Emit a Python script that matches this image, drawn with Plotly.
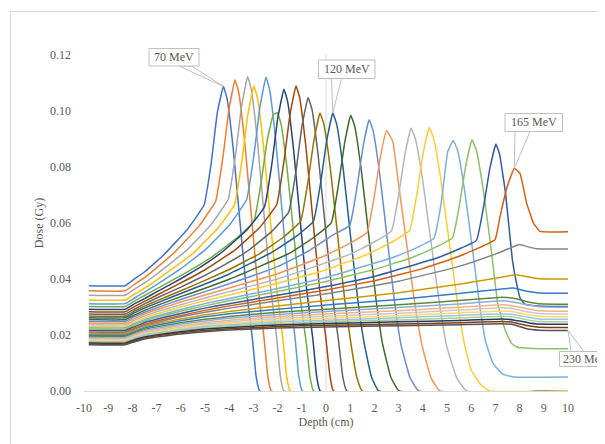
import plotly.graph_objects as go

# ---------------- data ----------------
energies = [70, 75, 80, 85, 90, 95, 100, 105, 110, 115, 120, 125, 130, 135, 140, 145, 150, 155,
            160, 165, 170, 175, 180, 185, 190, 195, 200, 205, 210, 215, 220, 225, 230]

colors = ["#4472C4", "#ED7D31", "#A5A5A5", "#FFC000", "#5B9BD5", "#70AD47",
          "#264478", "#9E480E", "#636363", "#997300", "#255E91", "#43682B",
          "#698ED0", "#F1975A", "#B7B7B7", "#FFCD33", "#7CAFDD", "#8CC168",
          "#335AA1", "#D26012", "#848484", "#CC9A00", "#327DC2", "#5A8A39",
          "#8FAADC", "#F4B183", "#C9C9C9", "#FFD966", "#9DC3E6", "#A9D18E",
          "#203864", "#843C0C", "#525252"]

x_tick_values = [-10, -9, -8, -7, -6, -5, -4, -3, -2, -1, 0, 1, 2, 3, 4, 5, 6, 7, 8, 9, 10]
x_tick_labels = ["-10", "-9", "-8", "-7", "-6", "-5", "-4", "-3", "-2", "-1", "0",
                 "1", "2", "3", "4", "5", "6", "7", "8", "9", "10"]
y_tick_values = [0.00, 0.02, 0.04, 0.06, 0.08, 0.10, 0.12]

E070_depth = [-9.8, -8.3, -7.9, -7.5, -7.0, -6.74, -5.74, -5.04, -4.74, -4.49, -4.24, -4.09, -3.84, -3.56, -3.29, -3.04, -2.89, -2.74, 10]
E070_dose = [0.0376, 0.0376, 0.0401, 0.0425, 0.0463, 0.0483, 0.0576, 0.0664, 0.0816, 0.0995, 0.1088, 0.1044, 0.0870, 0.0609, 0.0359, 0.0185, 0.0054, 0, 0]

E075_depth = [-9.8, -8.3, -7.9, -7.5, -7.0, -6.26, -5.26, -4.56, -4.26, -4.01, -3.76, -3.61, -3.36, -3.08, -2.81, -2.56, -2.41, -2.26, 10]
E075_dose = [0.0358, 0.0358, 0.0382, 0.0405, 0.0440, 0.0495, 0.0588, 0.0678, 0.0834, 0.1006, 0.1112, 0.1068, 0.0890, 0.0623, 0.0367, 0.0189, 0.0056, 0, 0]

E080_depth = [-9.8, -8.3, -7.9, -7.5, -7.0, -5.74, -4.74, -4.04, -3.74, -3.49, -3.24, -3.09, -2.84, -2.56, -2.29, -2.04, -1.89, -1.74, 10]
E080_dose = [0.0342, 0.0342, 0.0365, 0.0386, 0.0417, 0.0504, 0.0595, 0.0685, 0.0842, 0.1016, 0.1123, 0.1078, 0.0898, 0.0629, 0.0371, 0.0191, 0.0056, 0, 0]

E085_depth = [-9.8, -8.3, -7.9, -7.5, -7.0, -6.0, -5.48, -4.48, -3.78, -3.48, -3.23, -2.98, -2.83, -2.58, -2.30, -2.03, -1.78, -1.63, -1.48, 10]
E085_dose = [0.0325, 0.0325, 0.0347, 0.0367, 0.0396, 0.0458, 0.0493, 0.0580, 0.0665, 0.0818, 0.0986, 0.1090, 0.1046, 0.0872, 0.0610, 0.0360, 0.0185, 0.0055, 0, 0]

E090_depth = [-9.8, -8.3, -7.9, -7.5, -7.0, -6.0, -4.98, -3.98, -3.28, -2.98, -2.73, -2.48, -2.33, -2.08, -1.80, -1.53, -1.28, -1.13, -0.98, 10]
E090_dose = [0.0312, 0.0312, 0.0333, 0.0353, 0.0380, 0.0437, 0.0505, 0.0594, 0.0684, 0.0841, 0.1014, 0.1121, 0.1076, 0.0897, 0.0628, 0.0370, 0.0191, 0.0056, 0, 0]

E095_depth = [-9.8, -8.3, -7.9, -7.5, -7.0, -6.0, -4.68, -3.68, -2.98, -2.68, -2.43, -2.18, -2.01, -1.86, -1.61, -1.33, -1.06, -0.81, -0.66, -0.51, 10]
E095_dose = [0.0302, 0.0302, 0.0322, 0.0341, 0.0365, 0.0412, 0.0481, 0.0547, 0.0606, 0.0746, 0.0895, 0.0986, 0.0994, 0.0954, 0.0795, 0.0557, 0.0328, 0.0169, 0.0050, 0, 0]

E100_depth = [-9.8, -8.3, -7.9, -7.5, -7.0, -6.0, -5.0, -4.24, -3.24, -2.54, -2.24, -1.99, -1.74, -1.59, -1.34, -1.06, -0.79, -0.54, -0.39, -0.24, 10]
E100_dose = [0.0292, 0.0292, 0.0312, 0.0330, 0.0354, 0.0401, 0.0453, 0.0500, 0.0578, 0.0658, 0.0809, 0.0976, 0.1078, 0.1035, 0.0862, 0.0604, 0.0356, 0.0183, 0.0054, 0, 0]

E105_depth = [-9.8, -8.3, -7.9, -7.5, -7.0, -6.0, -5.0, -3.74, -2.74, -2.04, -1.74, -1.49, -1.24, -1.085, -0.83, -0.54, -0.26, 0.0, 0.16, 0.31, 10]
E105_dose = [0.0283, 0.0283, 0.0302, 0.0320, 0.0342, 0.0386, 0.0433, 0.0505, 0.0584, 0.0665, 0.0818, 0.0986, 0.1090, 0.1046, 0.0872, 0.0610, 0.0360, 0.0185, 0.0055, 0, 0]

E110_depth = [-9.8, -8.3, -7.9, -7.5, -7.0, -6.0, -5.0, -4.0, -3.24, -2.24, -1.54, -1.24, -0.99, -0.74, -0.58, -0.32, -0.03, 0.26, 0.52, 0.69, 0.86, 10]
E110_dose = [0.0275, 0.0275, 0.0293, 0.0311, 0.0332, 0.0371, 0.0413, 0.0460, 0.0500, 0.0570, 0.0639, 0.0786, 0.0948, 0.1048, 0.1006, 0.0838, 0.0587, 0.0346, 0.0178, 0.0052, 0, 0]

E115_depth = [-9.8, -8.3, -7.9, -7.5, -7.0, -6.0, -5.0, -4.0, -2.75, -1.75, -1.05, -0.75, -0.5, -0.25, -0.09, 0.18, 0.48, 0.77, 1.03, 1.27, 1.5, 10]
E115_dose = [0.0268, 0.0268, 0.0286, 0.0303, 0.0322, 0.0358, 0.0395, 0.0434, 0.0490, 0.0550, 0.0606, 0.0745, 0.0894, 0.0993, 0.0953, 0.0794, 0.0556, 0.0328, 0.0169, 0.0050, 0, 0]

E120_depth = [-9.8, -8.3, -7.9, -7.5, -7.0, -6.0, -5.0, -4.0, -2.22, -1.22, -0.52, -0.22, 0.03, 0.28, 0.44, 0.71, 1.01, 1.31, 1.58, 1.88, 2.18, 10]
E120_dose = [0.0262, 0.0262, 0.0280, 0.0296, 0.0314, 0.0348, 0.0382, 0.0418, 0.0496, 0.0553, 0.0606, 0.0745, 0.0894, 0.0993, 0.0953, 0.0794, 0.0556, 0.0328, 0.0169, 0.0050, 0, 0]

E125_depth = [-9.8, -8.3, -7.9, -7.5, -7.0, -6.0, -5.0, -4.0, -1.48, -0.48, 0.22, 0.52, 0.77, 1.02, 1.185, 1.46, 1.77, 2.07, 2.34, 2.68, 3.02, 10]
E125_dose = [0.0255, 0.0255, 0.0272, 0.0288, 0.0305, 0.0337, 0.0367, 0.0399, 0.0493, 0.0550, 0.0601, 0.0739, 0.0886, 0.0985, 0.0946, 0.0788, 0.0552, 0.0325, 0.0167, 0.0049, 0, 0]

E130_depth = [-9.8, -8.3, -7.9, -7.5, -7.0, -6.0, -5.0, -4.0, -2.0, -0.72, 0.28, 0.98, 1.28, 1.53, 1.78, 1.945, 2.22, 2.53, 2.83, 3.1, 3.47, 3.83, 10]
E130_dose = [0.0249, 0.0249, 0.0266, 0.0281, 0.0297, 0.0327, 0.0355, 0.0383, 0.0444, 0.0500, 0.0557, 0.0591, 0.0727, 0.0872, 0.0969, 0.0930, 0.0775, 0.0543, 0.0320, 0.0165, 0.0048, 0, 0]

E135_depth = [-9.8, -8.3, -7.9, -7.5, -7.0, -6.0, -5.0, -4.0, -2.0, 0.0, 1.0, 1.7, 2.0, 2.25, 2.5, 2.76, 2.99, 3.34, 3.68, 3.98, 4.34, 4.7, 10]
E135_dose = [0.0243, 0.0243, 0.0259, 0.0275, 0.0290, 0.0318, 0.0343, 0.0368, 0.0419, 0.0485, 0.0528, 0.0567, 0.0698, 0.0837, 0.0930, 0.0891, 0.0744, 0.0521, 0.0307, 0.0158, 0.0047, 0, 0]

E140_depth = [-9.8, -8.3, -7.9, -7.5, -7.0, -6.0, -5.0, -4.0, -2.0, 1.01, 2.01, 2.71, 3.01, 3.26, 3.51, 3.695, 4.0, 4.35, 4.69, 4.99, 5.4, 5.81, 10]
E140_dose = [0.0237, 0.0237, 0.0253, 0.0268, 0.0283, 0.0308, 0.0332, 0.0355, 0.0400, 0.0489, 0.0533, 0.0572, 0.0704, 0.0844, 0.0938, 0.0900, 0.0750, 0.0525, 0.0310, 0.0159, 0.0047, 0, 0]

E145_depth = [-9.8, -8.3, -7.9, -7.5, -7.0, -6.0, -5.0, -4.0, -2.0, 0.0, 1.76, 2.76, 3.46, 3.76, 4.01, 4.26, 4.445, 4.75, 5.1, 5.44, 5.74, 6.0, 6.4, 6.76, 10]
E145_dose = [0.0231, 0.0231, 0.0246, 0.0261, 0.0275, 0.0300, 0.0322, 0.0343, 0.0385, 0.0433, 0.0490, 0.0534, 0.0574, 0.0706, 0.0847, 0.0941, 0.0903, 0.0753, 0.0527, 0.0311, 0.0160, 0.0075, 0.0022, 0, 0]

E150_depth = [-9.8, -8.3, -7.9, -7.5, -7.0, -6.0, -5.0, -4.0, -2.0, 0.0, 2.76, 3.76, 4.46, 4.76, 5.03, 5.26, 5.44, 5.73, 6.06, 6.36, 6.6, 6.9, 7.3, 7.74, 10]
E150_dose = [0.0226, 0.0226, 0.0241, 0.0255, 0.0268, 0.0291, 0.0312, 0.0330, 0.0366, 0.0405, 0.0477, 0.0512, 0.0546, 0.0671, 0.0855, 0.0895, 0.0859, 0.0716, 0.0501, 0.0300, 0.0175, 0.0099, 0.0060, 0.0050, 0.0050]

E155_depth = [-9.8, -8.3, -7.9, -7.5, -7.0, -6.0, -5.0, -4.0, -2.0, 0.0, 2.0, 3.53, 4.53, 5.23, 5.53, 5.78, 6.03, 6.21, 6.5, 6.83, 7.1, 7.4, 7.66, 7.87, 8.5, 10]
E155_dose = [0.0221, 0.0221, 0.0236, 0.0250, 0.0263, 0.0285, 0.0304, 0.0322, 0.0355, 0.0391, 0.0434, 0.0476, 0.0514, 0.0547, 0.0673, 0.0807, 0.0897, 0.0861, 0.0718, 0.0502, 0.0310, 0.0218, 0.0171, 0.0157, 0.0152, 0.0151]

E160_depth = [-9.8, -8.3, -7.9, -7.5, -7.0, -6.0, -5.0, -4.0, -2.0, 0.0, 2.0, 4.52, 5.52, 6.22, 6.52, 6.77, 7.02, 7.17, 7.42, 7.7, 7.87, 8.02, 8.22, 8.7, 10]
E160_dose = [0.0216, 0.0216, 0.0230, 0.0244, 0.0256, 0.0277, 0.0296, 0.0312, 0.0342, 0.0373, 0.0409, 0.0473, 0.0508, 0.0538, 0.0662, 0.0794, 0.0882, 0.0847, 0.0706, 0.0469, 0.0386, 0.0332, 0.0310, 0.0304, 0.0302]

E165_depth = [-9.8, -8.3, -7.9, -7.5, -7.0, -6.0, -5.0, -4.0, -2.0, 0.0, 2.0, 4.0, 5.5, 6.98, 7.19, 7.45, 7.78, 8.02, 8.29, 8.57, 8.84, 10]
E165_dose = [0.0211, 0.0211, 0.0225, 0.0238, 0.0250, 0.0270, 0.0288, 0.0304, 0.0332, 0.0361, 0.0394, 0.0437, 0.0481, 0.0540, 0.0623, 0.0719, 0.0796, 0.0776, 0.0671, 0.0600, 0.0570, 0.0569]

E170_depth = [-9.8, -8.3, -7.9, -7.5, -7.0, -6.0, -5.0, -4.0, -2.0, 0.0, 3.0, 5.5, 7.0, 8.0, 8.3, 8.7, 10]
E170_dose = [0.0207, 0.0207, 0.0221, 0.0234, 0.0245, 0.0265, 0.0281, 0.0296, 0.0322, 0.0347, 0.0392, 0.0445, 0.0489, 0.0523, 0.0516, 0.0508, 0.0507]

E175_depth = [-9.8, -8.3, -7.9, -7.5, -7.0, -6.0, -5.0, -4.0, -2.0, 0.0, 3.0, 5.5, 7.0, 7.87, 8.3, 8.8, 10]
E175_dose = [0.0203, 0.0203, 0.0217, 0.0229, 0.0240, 0.0257, 0.0272, 0.0284, 0.0304, 0.0323, 0.0351, 0.0381, 0.0403, 0.0415, 0.0408, 0.0401, 0.0400]

E180_depth = [-9.8, -8.3, -7.9, -7.5, -7.0, -6.0, -5.0, -4.0, -2.0, 0.0, 3.0, 5.5, 7.0, 7.74, 8.3, 8.8, 10]
E180_dose = [0.0199, 0.0199, 0.0212, 0.0225, 0.0235, 0.0251, 0.0265, 0.0276, 0.0292, 0.0307, 0.0327, 0.0348, 0.0362, 0.0368, 0.0356, 0.0350, 0.0349]

plateau_depth = [-9.8, -8.3, -7.9, -7.5, -7.0, -6.0, -5.0, -4.0, -2.0, 0.0, 3.0, 5.5, 7.3, 7.8, 8.3, 8.8, 10]
E185_dose = [0.0195, 0.0195, 0.0208, 0.0220, 0.0229, 0.0244, 0.0256, 0.0266, 0.0281, 0.0292, 0.0308, 0.0323, 0.0335, 0.0330, 0.0319, 0.0312, 0.0310]
E190_dose = [0.0191, 0.0191, 0.0204, 0.0215, 0.0224, 0.0239, 0.0250, 0.0260, 0.0273, 0.0284, 0.0298, 0.0311, 0.0322, 0.0317, 0.0308, 0.0301, 0.0299]
E195_dose = [0.0187, 0.0187, 0.0200, 0.0211, 0.0219, 0.0233, 0.0244, 0.0253, 0.0266, 0.0275, 0.0287, 0.0299, 0.0308, 0.0303, 0.0294, 0.0287, 0.0285]
E200_dose = [0.0183, 0.0183, 0.0195, 0.0206, 0.0215, 0.0228, 0.0239, 0.0247, 0.0259, 0.0267, 0.0278, 0.0289, 0.0297, 0.0293, 0.0283, 0.0277, 0.0275]
E205_dose = [0.0180, 0.0180, 0.0192, 0.0203, 0.0211, 0.0224, 0.0234, 0.0242, 0.0253, 0.0260, 0.0269, 0.0279, 0.0286, 0.0282, 0.0273, 0.0267, 0.0265]
E210_dose = [0.0177, 0.0177, 0.0189, 0.0200, 0.0207, 0.0220, 0.0230, 0.0237, 0.0247, 0.0253, 0.0262, 0.0270, 0.0276, 0.0272, 0.0264, 0.0257, 0.0256]
E215_dose = [0.0174, 0.0174, 0.0186, 0.0196, 0.0204, 0.0216, 0.0225, 0.0232, 0.0241, 0.0247, 0.0254, 0.0261, 0.0267, 0.0263, 0.0254, 0.0248, 0.0247]
E220_dose = [0.0171, 0.0171, 0.0183, 0.0193, 0.0200, 0.0212, 0.0221, 0.0227, 0.0236, 0.0241, 0.0247, 0.0252, 0.0257, 0.0253, 0.0245, 0.0239, 0.0238]
E225_dose = [0.0168, 0.0168, 0.0179, 0.0189, 0.0197, 0.0208, 0.0216, 0.0222, 0.0230, 0.0235, 0.0239, 0.0244, 0.0248, 0.0244, 0.0234, 0.0228, 0.0227]
E230_dose = [0.0165, 0.0165, 0.0176, 0.0186, 0.0193, 0.0204, 0.0212, 0.0218, 0.0225, 0.0229, 0.0233, 0.0237, 0.0240, 0.0236, 0.0222, 0.0217, 0.0216]

curves = [
    (E070_depth, E070_dose), (E075_depth, E075_dose), (E080_depth, E080_dose),
    (E085_depth, E085_dose), (E090_depth, E090_dose), (E095_depth, E095_dose),
    (E100_depth, E100_dose), (E105_depth, E105_dose), (E110_depth, E110_dose),
    (E115_depth, E115_dose), (E120_depth, E120_dose), (E125_depth, E125_dose),
    (E130_depth, E130_dose), (E135_depth, E135_dose), (E140_depth, E140_dose),
    (E145_depth, E145_dose), (E150_depth, E150_dose), (E155_depth, E155_dose),
    (E160_depth, E160_dose), (E165_depth, E165_dose), (E170_depth, E170_dose),
    (E175_depth, E175_dose), (E180_depth, E180_dose),
    (plateau_depth, E185_dose), (plateau_depth, E190_dose), (plateau_depth, E195_dose),
    (plateau_depth, E200_dose), (plateau_depth, E205_dose), (plateau_depth, E210_dose),
    (plateau_depth, E215_dose), (plateau_depth, E220_dose), (plateau_depth, E225_dose),
    (plateau_depth, E230_dose),
]

# ---------------- figure ----------------
FONT = "Liberation Serif, Times New Roman, serif"
GREY_TXT = "#595959"
AX_LINE = "#D9D9D9"
BOX_LINE = "#BFBFBF"

fig = go.Figure()
for (dep, dose), col, e in zip(curves, colors, energies):
    fig.add_trace(go.Scatter(x=dep, y=dose, mode="lines", name=f"{e} MeV",
                             line=dict(color=col, width=1.5, shape="spline", smoothing=0.3),
                             showlegend=False, hoverinfo="skip"))

# layout geometry (pixels); the page body has an 8 px margin
OFF = 8
W, H = 605 - OFF, 444 - OFF
ML, MR, MT, MB = 76, 37, 47, 53
PW, PH = W - ML - MR, H - MT - MB
XR = [-10, 10]
YR = [0, 0.12]


def px_x(p):
    return (p - OFF - ML) / PW


def px_y(p):
    return (H - MB - (p - OFF)) / PH


def dx(v):
    return (v - XR[0]) / (XR[1] - XR[0])


def dy(v):
    return (v - YR[0]) / (YR[1] - YR[0])


def peak(dep, dose):
    i = max(range(len(dose)), key=lambda k: dose[k])
    return dep[i], dose[i]


shapes = []
annotations = []

# chart outer border
shapes.append(dict(type="rect", xref="paper", yref="paper",
                   x0=px_x(10.5), x1=px_x(720), y0=px_y(520), y1=px_y(11.5),
                   line=dict(color=AX_LINE, width=1), fillcolor="rgba(0,0,0,0)", layer="below"))
# vertical axis line at depth 0
shapes.append(dict(type="line", xref="x", yref="y", x0=0, x1=0, y0=0, y1=0.12,
                   line=dict(color=AX_LINE, width=1), layer="below"))

callouts = [
    ("70 MeV", (149, 48.5, 199, 66), (179, 191.5), peak(E070_depth, E070_dose), "center"),
    ("120 MeV", (318.5, 60, 375, 78.5), (331.5, 341.5), peak(E120_depth, E120_dose), "center"),
    ("165 MeV", (505, 113.5, 562.5, 131.5), (515, 530), peak(E165_depth, E165_dose), "center"),
    ("230 MeV", (559.5, 351.5, 625, 366.5), (571, 584), (plateau_depth[-1], E230_dose[-1]), "left"),
]
for text, (bx0, by0, bx1, by1), (wx0, wx1), tip, anchor in callouts:
    wy = by0 if anchor == "left" else by1
    path = (f"M {px_x(wx0)},{px_y(wy)} L {dx(tip[0])},{dy(tip[1])} "
            f"L {px_x(wx1)},{px_y(wy)} Z")
    shapes.append(dict(type="path", xref="paper", yref="paper", path=path,
                       fillcolor="white", line=dict(color=BOX_LINE, width=1), layer="above"))
    shapes.append(dict(type="rect", xref="paper", yref="paper",
                       x0=px_x(bx0), x1=px_x(bx1), y0=px_y(by1), y1=px_y(by0),
                       fillcolor="white", line=dict(color=BOX_LINE, width=1), layer="above"))
    if anchor == "left":
        ax, xa = px_x(bx0 + 1), "left"
    else:
        ax, xa = px_x((bx0 + bx1) / 2), "center"
    annotations.append(dict(xref="paper", yref="paper", x=ax, y=px_y((by0 + by1) / 2),
                            text=text, showarrow=False, xanchor=xa, yanchor="middle",
                            font=dict(family=FONT, size=12, color=GREY_TXT)))

fig.update_layout(
    width=W, height=H,
    margin=dict(l=ML, r=MR, t=MT, b=MB, pad=0),
    paper_bgcolor="white", plot_bgcolor="white",
    font=dict(family=FONT, size=12, color=GREY_TXT),
    showlegend=False,
    shapes=shapes,
    annotations=annotations,
    xaxis=dict(range=XR, tickvals=x_tick_values, ticktext=x_tick_labels,
               showgrid=False, zeroline=False, showline=True, linecolor=AX_LINE, linewidth=1,
               ticks="", ticklabelstandoff=6,
               tickfont=dict(family=FONT, size=12, color=GREY_TXT),
               title=dict(text="Depth (cm)", standoff=3,
                          font=dict(family=FONT, size=12, color=GREY_TXT))),
    yaxis=dict(range=YR, tickvals=y_tick_values, tickformat=".2f",
               showgrid=False, zeroline=False, showline=False,
               ticks="", ticklabelstandoff=12,
               tickfont=dict(family=FONT, size=12, color=GREY_TXT),
               title=dict(text="Dose (Gy)", standoff=3,
                          font=dict(family=FONT, size=12, color=GREY_TXT))),
)

fig.write_html("out.html")
